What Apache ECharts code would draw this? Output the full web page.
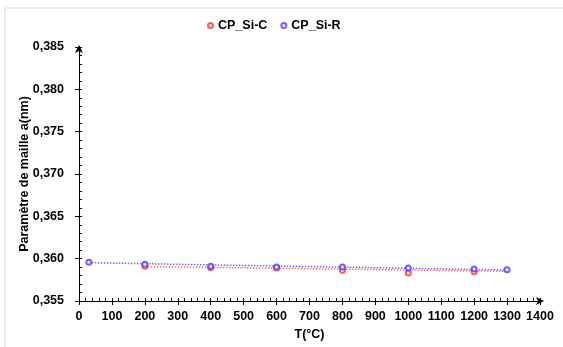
<!DOCTYPE html>
<html><head><meta charset="utf-8">
<script src="https://cdn.jsdelivr.net/npm/echarts@6/dist/echarts.min.js"></script>
<style>html,body{margin:0;padding:0;background:#fff}#c{width:563px;height:347px}</style>
</head><body><div id="c"></div>
<script>
const tempC = [200, 400, 600, 800, 1000, 1200];
const valC = [0.3591, 0.35893, 0.3589, 0.35863, 0.35831, 0.35846];
const tempR = [30, 200, 400, 600, 800, 1000, 1200, 1300];
const valR = [0.35957, 0.35933, 0.3591, 0.35902, 0.35902, 0.3589, 0.35878, 0.3587];
const trendC = [[200, 0.35907], [1300, 0.35851]];
const trendR = [[30, 0.35952], [1300, 0.35866]];
const seriesNames = ['CP_Si-C', 'CP_Si-R'];

const F = 'Liberation Sans, Arial, sans-serif';
const FS = 12.5;
const chart = echarts.init(document.getElementById('c'), null, {renderer: 'canvas'});
const fmtY = v => v.toFixed(3).replace('.', ',');
chart.setOption({
  animation: false,
  textStyle: {fontFamily: F},
  graphic: [{type: 'rect', shape: {x: 5, y: 8, width: 700, height: 500},
    style: {fill: 'none', stroke: '#d9d9d9', lineWidth: 1}, silent: true}],
  legend: {
    data: seriesNames.map(n => ({name: n, icon: 'emptyCircle'})),
    left: 202, top: 14, itemWidth: 5, itemHeight: 5, itemGap: 13,
    textStyle: {fontFamily: F, fontWeight: 'bold', fontSize: FS, color: '#000'}
  },
  grid: {left: 79, right: 23, top: 47, bottom: 46},
  xAxis: [{
    type: 'value', min: 0, max: 1400, interval: 100,
    name: 'T(°C)', nameLocation: 'middle', nameGap: 22,
    nameTextStyle: {fontFamily: F, fontWeight: 'bold', fontSize: FS, color: '#000'},
    axisLine: {lineStyle: {color: '#000', width: 1}, symbol: ['none', 'arrow'], symbolSize: [6, 8], symbolOffset: [0, 4]},
    axisTick: {show: true, length: 4, lineStyle: {color: '#000'}},
    axisLabel: {margin: 9, formatter: v => String(v), fontFamily: F, fontWeight: 'bold', fontSize: FS, color: '#000'},
    splitLine: {show: false}
  }, {
    type: 'value', min: 0, max: 1400, interval: 20, position: 'bottom',
    axisLine: {show: false}, axisLabel: {show: false}, splitLine: {show: false},
    axisTick: {show: true, inside: true, length: 3, lineStyle: {color: '#000'}}
  }],
  yAxis: [{
    type: 'value', min: 0.355, max: 0.385, interval: 0.005,
    name: 'Paramètre de maille a(nm)', nameLocation: 'middle', nameGap: 48,
    nameMoveOverlap: false,
    nameTextStyle: {fontFamily: F, fontWeight: 'bold', fontSize: FS, color: '#000'},
    axisLine: {show: true, lineStyle: {color: '#000', width: 1}, symbol: ['none', 'arrow'], symbolSize: [6, 8], symbolOffset: [0, 2]},
    axisTick: {show: true, length: 4, lineStyle: {color: '#000'}},
    axisLabel: {margin: 15, formatter: fmtY, fontFamily: F, fontWeight: 'bold', fontSize: FS, color: '#000'},
    splitLine: {show: false}
  }, {
    type: 'value', min: 0.355, max: 0.385, interval: 0.001, position: 'left',
    axisLine: {show: false}, axisLabel: {show: false}, splitLine: {show: false},
    axisTick: {show: true, inside: true, length: 3, lineStyle: {color: '#000'}}
  }],
  series: [
    {name: 'trendC', type: 'line', data: trendC, showSymbol: false, silent: true,
      lineStyle: {color: '#ff6b6b', width: 1.5, type: 'dotted'}, z: 1},
    {name: 'trendR', type: 'line', data: trendR, showSymbol: false, silent: true,
      lineStyle: {color: '#6a6aff', width: 1.5, type: 'dotted'}, z: 1},
    {name: seriesNames[0], type: 'scatter', data: tempC.map((t, i) => [t, valC[i]]),
      symbol: 'emptyCircle', symbolSize: 5, itemStyle: {color: '#ff3030', borderWidth: 1}, z: 3},
    {name: seriesNames[1], type: 'scatter', data: tempR.map((t, i) => [t, valR[i]]),
      symbol: 'emptyCircle', symbolSize: 5, itemStyle: {color: '#4b3bff', borderWidth: 1}, z: 4}
  ]
});
</script></body></html>
